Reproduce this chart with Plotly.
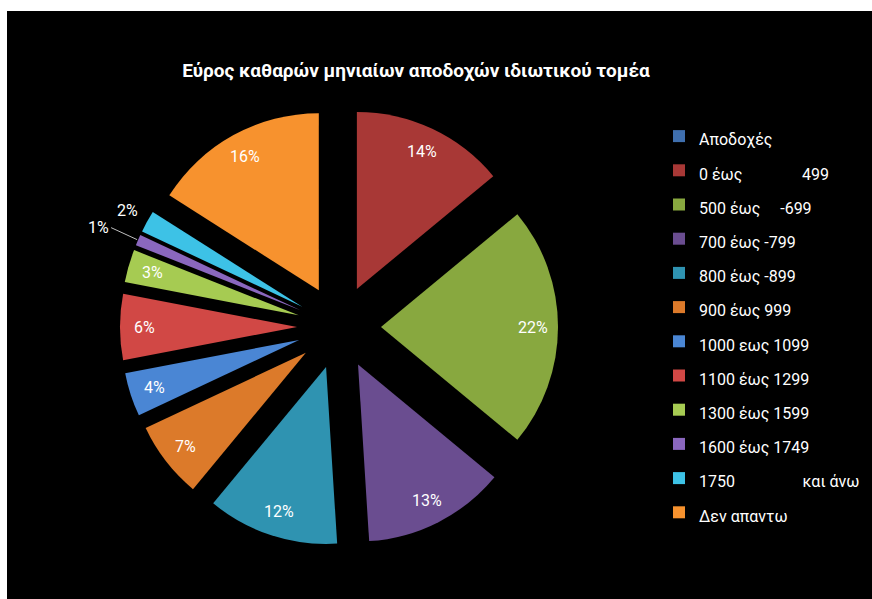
import math
import plotly.graph_objects as go

# Salary bands (legend order) and their shares in percent
bands = [
    "Αποδοχές",
    "0 έως" + "\u00a0" * 15 + "499",
    "500 έως" + "\u00a0" * 5 + "-699",
    "700 έως -799",
    "800 έως -899",
    "900 έως 999",
    "1000 εως 1099",
    "1100 έως 1299",
    "1300 έως 1599",
    "1600 έως 1749",
    "1750" + "\u00a0" * 17 + "και άνω",
    "Δεν απαντω",
]
shares = [0, 14, 22, 13, 12, 7, 4, 6, 3, 1, 2, 16]
colors = [
    "#3F6FAE", "#A83836", "#88A83F", "#6A4D90", "#2F93B1", "#DC7A2A",
    "#4A86D4", "#D14845", "#A6CB52", "#8A67BE", "#3DC2E6", "#F7922E",
]
title_text = "Εύρος καθαρών μηνιαίων αποδοχών ιδιωτικού τομέα"

W, H = 872, 599
CX, CY = 339, 327          # pie centre in pixels (from top-left)
OUTER = 219                # radius incl. explosion
PULL = 0.237
R = OUTER / (1 + PULL)     # slice radius as plotly computes it
D = PULL * R               # explosion offset
LABEL_FONT = dict(family="Roboto", size=16, color="white")

fig = go.Figure()
fig.add_trace(go.Pie(
    labels=[f"<span style='font-size:16px'>{b}</span>" for b in bands],
    values=shares,
    sort=False,
    direction="clockwise",
    rotation=0,
    pull=PULL,
    marker=dict(colors=colors, line=dict(width=0)),
    textinfo="none",
    hoverinfo="label+percent",
    domain=dict(x=[(CX - OUTER) / W, (CX + OUTER) / W],
                y=[1 - (CY + OUTER) / H, 1 - (CY - OUTER) / H]),
    showlegend=True,
))

# percentage labels placed along each slice's bisector
total = sum(shares)
cum = 0.0
annotations = []
for v in shares:
    mid = (cum + v / 2) / total * 2 * math.pi
    cum += v
    if v == 0:
        continue
    s, c = math.sin(mid), math.cos(mid)
    if v >= 3:
        r = D + 0.86 * R
        annotations.append(dict(
            x=(CX + r * s) / W, y=1 - (CY - r * c) / H,
            xref="paper", yref="paper", text=f"{v}%", showarrow=False,
            font=LABEL_FONT, xanchor="center", yanchor="middle"))
    elif v == 2:
        r = D + R + 22
        annotations.append(dict(
            x=(CX + r * s) / W, y=1 - (CY - r * c) / H,
            xref="paper", yref="paper", text=f"{v}%", showarrow=False,
            font=LABEL_FONT, xanchor="center", yanchor="middle"))
    else:
        r_tip = D + R + 1
        annotations.append(dict(
            x=(CX + r_tip * s) / W, y=1 - (CY - r_tip * c) / H,
            xref="paper", yref="paper", text=f"{v}%", showarrow=True,
            arrowhead=0, arrowwidth=1, arrowcolor="#BFBFBF",
            ax=-26, ay=-12, xanchor="right", yanchor="middle",
            font=LABEL_FONT))

fig.update_layout(
    width=W, height=H,
    margin=dict(l=0, r=0, t=0, b=0),
    paper_bgcolor="white",
    title=dict(text="<b>" + title_text + "</b>", x=416 / W, y=1 - 70 / H,
               xanchor="center", yanchor="middle",
               font=dict(family="Roboto", size=19, color="white")),
    legend=dict(x=659 / W, y=1 - 114 / H, xanchor="left", yanchor="top",
                font=dict(family="Roboto", size=24, color="white"),
                bgcolor="rgba(0,0,0,0)", traceorder="normal"),
    shapes=[dict(type="rect", xref="paper", yref="paper",
                 x0=7 / W, x1=1, y0=0, y1=1 - 11 / H,
                 fillcolor="black", line=dict(width=0), layer="below")],
    annotations=annotations,
)

fig.write_html("out.html")
